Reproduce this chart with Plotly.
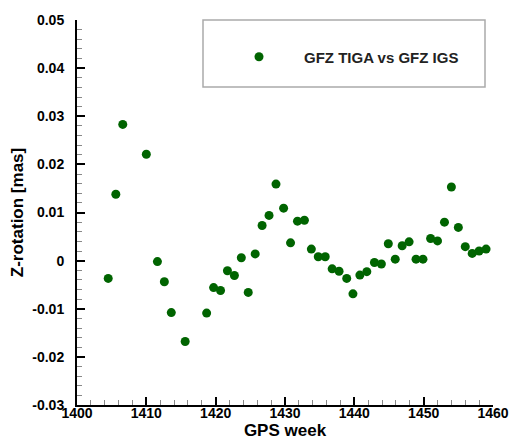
import plotly.graph_objects as go

weeks = [1404.5, 1405.6, 1406.6, 1410.0, 1411.6, 1412.6, 1413.6, 1415.6, 1418.7, 1419.7,
         1420.7, 1421.7, 1422.7, 1423.7, 1424.7, 1425.7, 1426.7, 1427.7, 1428.7, 1429.8,
         1430.8, 1431.8, 1432.8, 1433.8, 1434.8, 1435.8, 1436.8, 1437.8, 1438.9, 1439.8,
         1440.8, 1441.8, 1442.9, 1443.9, 1444.9, 1445.9, 1446.9, 1447.9, 1448.9, 1449.9,
         1451.0, 1452.0, 1453.0, 1454.0, 1455.0, 1456.0, 1457.0, 1458.0, 1459.0]
zrot = [-0.0037, 0.0138, 0.0283, 0.0221, -0.0002, -0.0044, -0.0108, -0.0168, -0.0109, -0.0056,
        -0.0062, -0.0021, -0.0031, 0.0006, -0.0066, 0.0014, 0.0073, 0.0094, 0.0159, 0.0109,
        0.0037, 0.0082, 0.0084, 0.0024, 0.0008, 0.0008, -0.0017, -0.0022, -0.0037, -0.0069,
        -0.0030, -0.0023, -0.0004, -0.0007, 0.0035, 0.0003, 0.0031, 0.0039, 0.0003, 0.0003,
        0.0046, 0.0041, 0.0080, 0.0153, 0.0069, 0.0029, 0.0015, 0.0020, 0.0024]

x_ticks = [1400, 1410, 1420, 1430, 1440, 1450, 1460]
x_ticktext = ["1400", "1410", "1420", "1430", "1440", "1450", "1460"]
y_ticks = [-0.03, -0.02, -0.01, 0, 0.01, 0.02, 0.03, 0.04, 0.05]
y_ticktext = ["-0.03", "-0.02", "-0.01", "0", "0.01", "0.02", "0.03", "0.04", "0.05"]

series_name = "GFZ TIGA vs GFZ IGS"
x_title = "GPS week"
y_title = "Z-rotation [mas]"

FONT = "Liberation Sans, Arial, sans-serif"

# the page body adds an 8px offset, so the figure is 8px smaller and margins shifted
fig = go.Figure()
fig.add_trace(go.Scatter(
    x=weeks, y=zrot, mode="markers", name=series_name,
    marker=dict(color="#006400", size=9, line=dict(width=0)),
))

fig.update_layout(
    width=511, height=432,
    margin=dict(l=69, r=26, t=12, b=35),
    paper_bgcolor="white", plot_bgcolor="white",
    font=dict(family=FONT, color="black"),
    showlegend=True,
    legend=dict(
        x=(214 - 77) / 416, y=(405 - 57) / 385, xanchor="left", yanchor="middle",
        bgcolor="rgba(0,0,0,0)", borderwidth=0, itemwidth=80,
        font=dict(family=FONT, size=15, weight="bold", color="#222"),
    ),
    shapes=[dict(type="rect", xref="paper", yref="paper",
                 x0=(203 - 77) / 416, x1=(485 - 77) / 416,
                 y0=(405 - 87) / 385, y1=(405 - 20) / 385,
                 line=dict(color="#aaaaaa", width=1.5), fillcolor="rgba(0,0,0,0)")],
)

fig.update_xaxes(
    range=[1400, 1460], tickvals=x_ticks, ticktext=x_ticktext,
    showgrid=False, zeroline=False, showline=True, linecolor="black", linewidth=2,
    ticks="inside", ticklen=8, tickwidth=2, tickcolor="black",
    tickfont=dict(family=FONT, size=14, weight="bold"),
    ticklabelstandoff=-6,
    minor=dict(dtick=2, ticks="inside", ticklen=5, tickwidth=1, tickcolor="#888", showgrid=False),
    title=dict(text=x_title, font=dict(family=FONT, size=17, weight="bold"), standoff=2),
    automargin=False, mirror=False,
)
fig.update_yaxes(
    range=[-0.03, 0.05], tickvals=y_ticks, ticktext=y_ticktext,
    showgrid=False, zeroline=False, showline=True, linecolor="black", linewidth=2,
    ticks="inside", ticklen=8, tickwidth=2, tickcolor="black",
    tickfont=dict(family=FONT, size=14, weight="bold"),
    ticklabelstandoff=8,
    minor=dict(dtick=0.002, ticks="inside", ticklen=5, tickwidth=1, tickcolor="#888", showgrid=False),
    title=dict(text=y_title, font=dict(family=FONT, size=17, weight="bold"), standoff=6),
    automargin=False, mirror=False,
)

fig.write_html("out.html")
